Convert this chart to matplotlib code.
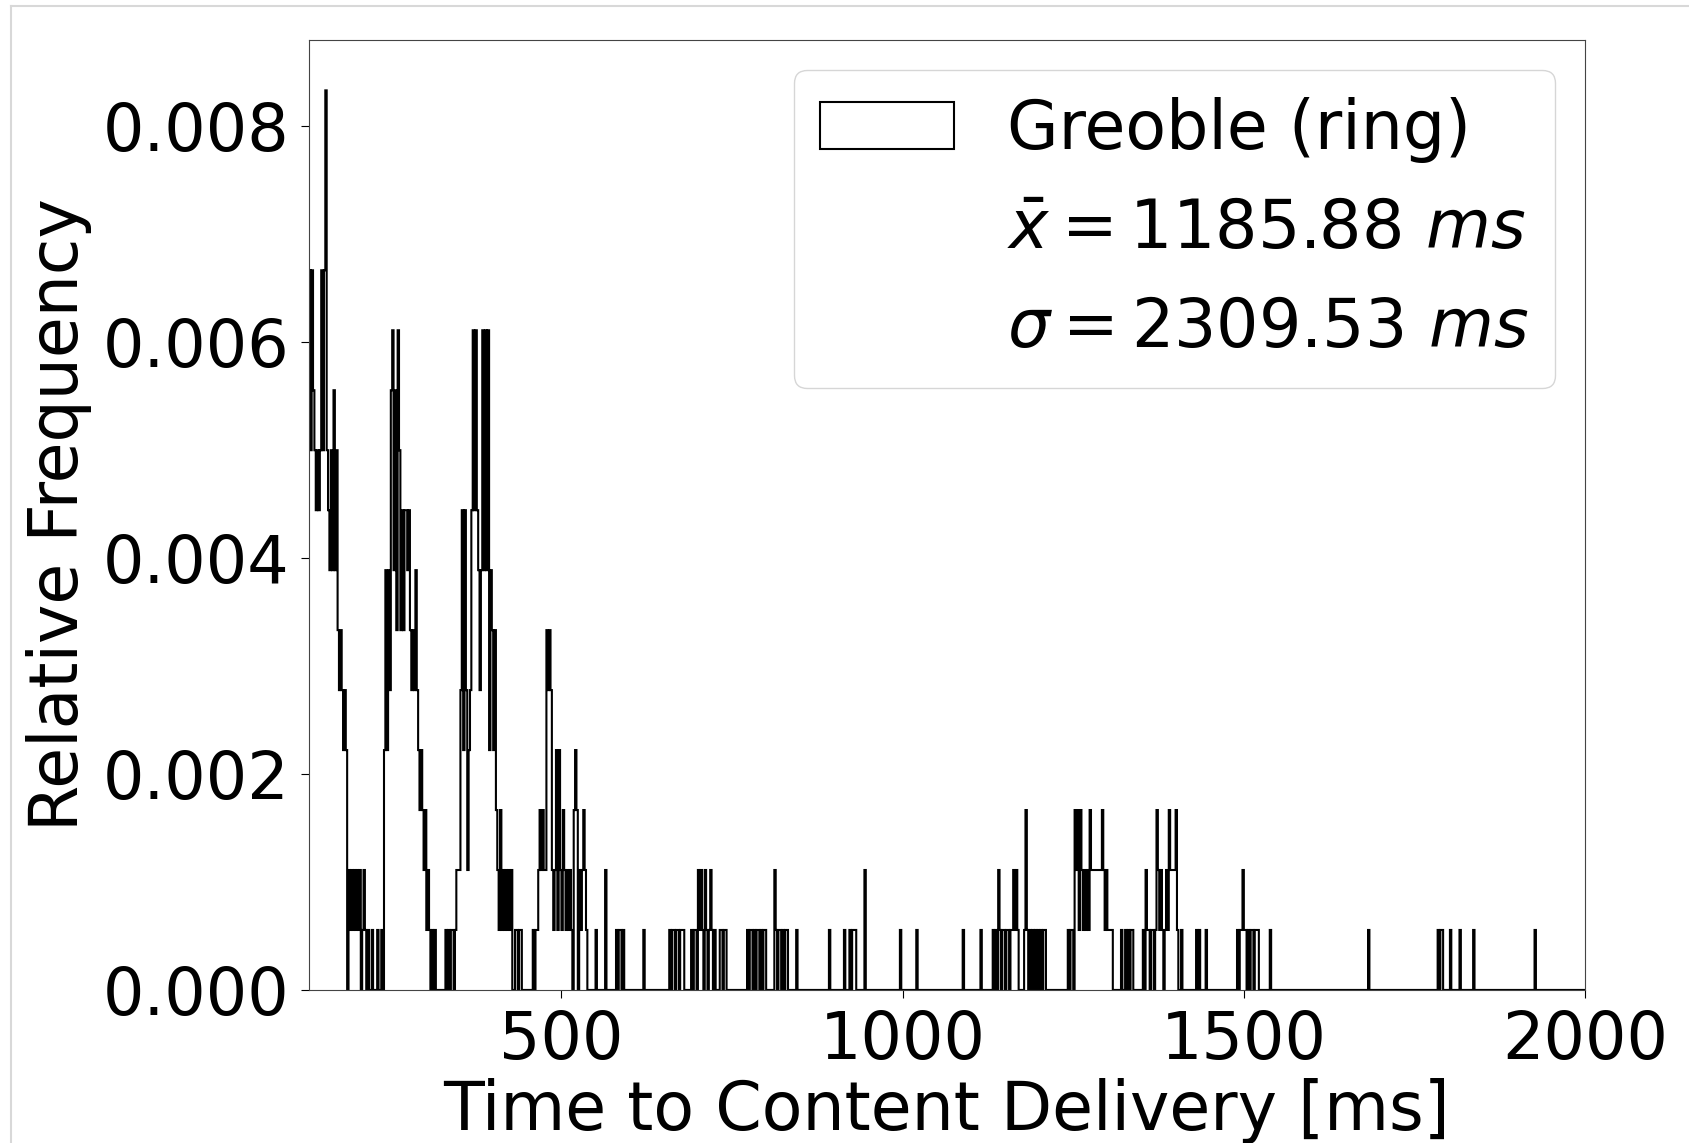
import numpy as np
import matplotlib
matplotlib.use("Agg")
import matplotlib.pyplot as plt
from matplotlib.ticker import FormatStrFormatter
from matplotlib.lines import Line2D

# ---------------- data (histogram) ----------------
bin_width_ms = 2
n_total = 900          # total samples (incl. those beyond 2000 ms)
series_label = "Greoble (ring)"
mean_ms = 1185.88
std_ms = 2309.53

bin_left_ms = [
    130, 132, 134, 136, 138, 140, 142, 144, 146, 148, 150, 152, 154, 156, 158, 160, 162, 164, 166, 168,
    170, 172, 174, 176, 178, 180, 182, 184,
    188, 190, 192, 194, 196, 198, 200, 202, 204, 208, 210, 212, 216, 222, 230, 236,
    240, 242, 244, 246, 248, 250, 252, 254, 256, 258, 260, 262, 264, 266, 268, 270, 272, 274, 276, 278,
    280, 282, 284, 286, 288, 290, 292, 294, 296, 298, 300, 302, 304, 306, 310, 314,
    330, 334, 338, 340, 344, 346, 348, 350, 352, 354, 356, 358, 360, 362, 364, 366, 368, 370, 372, 374,
    376, 378, 380, 382, 384, 386, 388, 390, 392, 394, 396, 398, 400, 402, 404, 406, 408, 410, 412, 414,
    416, 418, 420, 422, 424, 426,
    432, 434, 438, 440,
    458, 462, 464, 466, 468, 470, 472, 474, 476, 478, 480, 482, 484, 486, 488, 490, 492, 494, 496, 498,
    500, 502, 504, 506, 508, 510, 512, 514, 518, 520, 522, 526, 528, 530, 532, 534, 536,
    550, 564, 580, 584, 586, 590, 620,
    658, 662, 664, 668, 670, 674, 676, 678,
    690, 694, 696, 700, 702, 704, 706, 710, 712, 716, 718, 720, 724, 732, 734, 738, 740,
    772, 776, 778, 782, 786, 788, 792, 796, 798,
    812, 814, 818, 820, 824, 828, 830, 844,
    892, 914, 922, 926, 928, 930, 944, 996, 1020, 1088, 1114,
    1132, 1136, 1140, 1142, 1146, 1148, 1152, 1154, 1158, 1160, 1162, 1164, 1166, 1168,
    1178, 1180, 1182, 1186, 1190, 1194, 1198, 1202, 1206, 1208,
    1242, 1246, 1248, 1252, 1254, 1256, 1258, 1260, 1262, 1264, 1266, 1268, 1270, 1272, 1274, 1276,
    1278, 1280, 1282, 1284, 1286, 1288, 1290, 1292, 1294, 1296, 1298, 1300, 1302, 1304, 1306,
    1320, 1326, 1330, 1334, 1336, 1352, 1356, 1358, 1360, 1364, 1366, 1370, 1372, 1374, 1376, 1378,
    1380, 1384, 1386, 1388, 1390, 1392, 1394, 1396, 1398, 1400, 1402, 1408,
    1430, 1434, 1444, 1490, 1494, 1496, 1498, 1500, 1502, 1506, 1510, 1512, 1516, 1518, 1520, 1538,
    1682, 1784, 1788, 1790, 1802, 1816, 1836, 1926,
]

bin_count = [
    12, 9, 12, 10, 9, 8, 9, 8, 9, 12, 9, 12, 15, 9, 8, 7, 9, 7, 10, 7,
    9, 6, 5, 6, 5, 4, 5, 4,
    2, 1, 2, 1, 2, 1, 2, 1, 2, 1, 2, 1, 1, 1, 1, 1,
    4, 7, 4, 7, 5, 10, 11, 7, 10, 6, 11, 9, 6, 8, 6, 8, 8, 7, 8, 6,
    5, 6, 5, 7, 5, 4, 3, 4, 3, 2, 3, 1, 2, 1, 1, 1,
    1, 1, 1, 1, 1, 2, 2, 2, 5, 8, 4, 8, 5, 2, 4, 5, 8, 11, 8, 11,
    8, 7, 5, 7, 11, 7, 11, 7, 11, 4, 7, 6, 4, 6, 3, 2, 1, 3, 1, 2,
    1, 2, 1, 2, 1, 2,
    1, 1, 1, 1,
    1, 1, 1, 2, 3, 2, 3, 2, 2, 6, 5, 6, 5, 2, 1, 2, 4, 1, 4, 2,
    1, 3, 2, 1, 2, 1, 2, 1, 3, 4, 3, 2, 1, 2, 3, 2, 1,
    1, 2, 1, 1, 1, 1, 1,
    1, 1, 1, 1, 1, 1, 1, 1,
    1, 1, 1, 2, 1, 2, 1, 2, 1, 1, 2, 1, 1, 1, 1, 1, 1,
    1, 1, 1, 1, 1, 1, 1, 1, 1,
    2, 1, 1, 1, 1, 1, 1, 1,
    1, 1, 1, 1, 1, 1, 2, 1, 1, 1, 1,
    1, 1, 2, 1, 1, 1, 1, 1, 1, 1, 2, 1, 2, 1,
    1, 3, 1, 1, 1, 1, 1, 1, 1, 1,
    1, 1, 1, 3, 2, 3, 1, 3, 2, 1, 2, 1, 2, 1, 3, 2,
    2, 2, 2, 2, 2, 2, 2, 3, 2, 1, 2, 1, 1, 1, 1,
    1, 1, 1, 1, 1, 1, 2, 1, 1, 1, 1, 1, 3, 2, 1, 2,
    1, 1, 2, 1, 3, 2, 2, 2, 2, 3, 1, 1,
    1, 1, 1, 1, 1, 1, 2, 1, 1, 1, 1, 1, 1, 1, 1, 1,
    1, 1, 1, 1, 1, 1, 1, 1,
]

x_range_ms = (130, 2000)
y_ticks = [0.000, 0.002, 0.004, 0.006, 0.008]
x_ticks = [500, 1000, 1500, 2000]

# ---------------- plotting ----------------
plt.rcParams["font.family"] = ["DejaVu Sans"]
plt.rcParams["mathtext.fontset"] = "dejavusans"
fs_tick = 47
fs_label = 48

fig = plt.figure(figsize=(16.9, 11.43), dpi=100)
ax = fig.add_axes([0.1828, 0.1339, 0.7551, 0.8311])

left = np.array(bin_left_ms, dtype=float)
cnt = np.array(bin_count, dtype=float)
edges = np.arange(x_range_ms[0], x_range_ms[1] + bin_width_ms, bin_width_ms)
weights = cnt / (n_total * bin_width_ms)

ax.hist(left + bin_width_ms / 2, bins=edges, weights=weights, histtype="step",
        color="black", linewidth=1.5, label=series_label)
ax.plot([], [], " ", label=r"$\bar{x} = %.2f\ ms$" % mean_ms)
ax.plot([], [], " ", label=r"$\sigma = %.2f\ ms$" % std_ms)

ax.set_xlim(*x_range_ms)
ax.set_ylim(0, 0.0088)
ax.set_xticks(x_ticks)
ax.set_yticks(y_ticks)
ax.yaxis.set_major_formatter(FormatStrFormatter("%.3f"))
ax.tick_params(axis="both", labelsize=fs_tick, length=6, width=0.8, pad=8)
for sp in ax.spines.values():
    sp.set_color("#444444")

ax.set_xlabel("Time to Content Delivery [ms]", fontsize=fs_label, labelpad=3)
ax.set_ylabel("Relative Frequency", fontsize=fs_label, labelpad=8)

ax.legend(loc="upper right", fontsize=fs_label, borderaxespad=0.45,
          labelspacing=0.5)

# screenshot-like border
fig.add_artist(Line2D([0.0065, 1.0], [0.9945, 0.9945], transform=fig.transFigure,
                      color="#d8d8d8", linewidth=1.5))
fig.add_artist(Line2D([0.0065, 0.0065], [0.0, 0.9945], transform=fig.transFigure,
                      color="#d8d8d8", linewidth=1.5))

fig.savefig("out.png", dpi=100)
